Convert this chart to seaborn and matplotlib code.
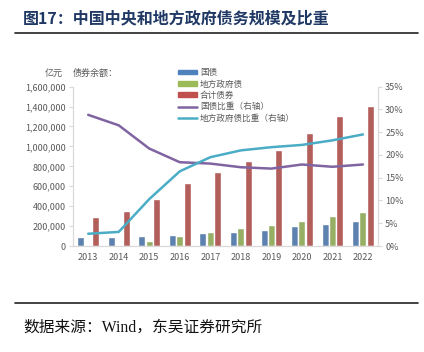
import matplotlib
matplotlib.use("Agg")
import matplotlib.pyplot as plt
import matplotlib.ticker as mticker
from matplotlib.lines import Line2D
from matplotlib.patches import Patch
import pandas as pd
import seaborn as sns

sns.set_style("white")
plt.rcParams['font.family'] = ['Noto Sans CJK SC', 'DejaVu Sans']
plt.rcParams['axes.unicode_minus'] = False

# data
years = ['2013', '2014', '2015', '2016', '2017', '2018', '2019', '2020', '2021', '2022']
gov_bond = [87000, 90000, 100000, 113000, 127000, 143000, 163000, 200000, 223000, 250000]
local_bond = [11600, 11700, 48000, 103000, 140000, 177000, 207000, 250000, 297000, 340000]
total_bond = [293000, 353000, 477000, 637000, 740000, 850000, 963000, 1137000, 1300000, 1410000]
gov_ratio = [28.8, 26.5, 21.4, 18.4, 18.1, 17.3, 17.0, 17.9, 17.4, 17.9]
local_ratio = [2.7, 3.1, 10.3, 16.4, 19.5, 21.0, 21.7, 22.2, 23.2, 24.5]

bar_names = ['国债', '地方政府债', '合计债券']
bar_colors = ['#4F81BD', '#9BBB59', '#C0504D']
line_names = ['国债比重（右轴）', '地方政府债比重（右轴）']
line_colors = ['#8064A2', '#4BACC6']

bars = pd.DataFrame({'year': years * 3,
                     'value': gov_bond + local_bond + total_bond,
                     'kind': [n for n in bar_names for _ in years]})

fig = plt.figure(figsize=(4.24, 3.52), dpi=100)
ax = fig.add_axes([0.172, 0.301, 0.72, 0.453])

sns.barplot(data=bars, x='year', y='value', hue='kind', palette=bar_colors,
            width=0.72, gap=0.05, ax=ax, legend=False)
ax.set_ylim(0, 1600000)
ax.yaxis.set_major_locator(mticker.MultipleLocator(200000))
ax.yaxis.set_major_formatter(mticker.StrMethodFormatter('{x:,.0f}'))
ax.set_xlabel('')
ax.set_ylabel('')

ax2 = ax.twinx()
for vals, c in zip([gov_ratio, local_ratio], line_colors):
    sns.lineplot(x=years, y=vals, color=c, linewidth=1.8, ax=ax2, sort=False)
ax2.set_ylim(0, 35)
ax2.yaxis.set_major_locator(mticker.MultipleLocator(5))
ax2.yaxis.set_major_formatter(mticker.StrMethodFormatter('{x:.0f}%'))
ax.set_xlim(-0.5, len(years) - 0.5)

for a in (ax, ax2):
    for s in a.spines.values():
        s.set_color('#D9D9D9')
        s.set_linewidth(0.8)
    a.spines['top'].set_visible(False)
    a.tick_params(labelsize=6.5, labelcolor='#595959', color='#D9D9D9', length=3)
ax.tick_params(axis='x', length=0, pad=5)
ax.set_xticks([i + 0.5 for i in range(len(years) - 1)], minor=True)
ax.tick_params(axis='x', which='minor', length=3, color='#D9D9D9')
ax.tick_params(axis='y', pad=2)
ax2.tick_params(axis='y', pad=2)

handles = [Patch(color=c) for c in bar_colors] + \
          [Line2D([0], [0], color=c, linewidth=1.8) for c in line_colors]
ax2.legend(handles, bar_names + line_names, loc='upper left',
           bbox_to_anchor=(0.32, 1.165), frameon=False, fontsize=6.2,
           labelcolor='#595959', handlelength=2.2, handleheight=0.5,
           handletextpad=0.3, labelspacing=0.28)

fig.text(0.106, 0.793, '亿元', fontsize=6.5, color='#595959', va='center')
fig.text(0.172, 0.793, '债券余额：', fontsize=6.5, color='#595959', va='center')

fig.text(0.055, 0.948, '图17：中国中央和地方政府债务规模及比重', fontsize=11.5,
         fontweight='bold', color='#1F3864', va='center')
fig.add_artist(Line2D([0.035, 0.985], [0.905, 0.905], color='#222222', linewidth=1.2))
fig.add_artist(Line2D([0.035, 0.985], [0.139, 0.139], color='#222222', linewidth=1.2))
fig.text(0.055, 0.068, '数据来源：Wind，东吴证券研究所', fontsize=11.3, color='#111111',
         va='center', family=['Liberation Serif', 'Noto Sans CJK SC'])

fig.savefig('out.png', dpi=100)
